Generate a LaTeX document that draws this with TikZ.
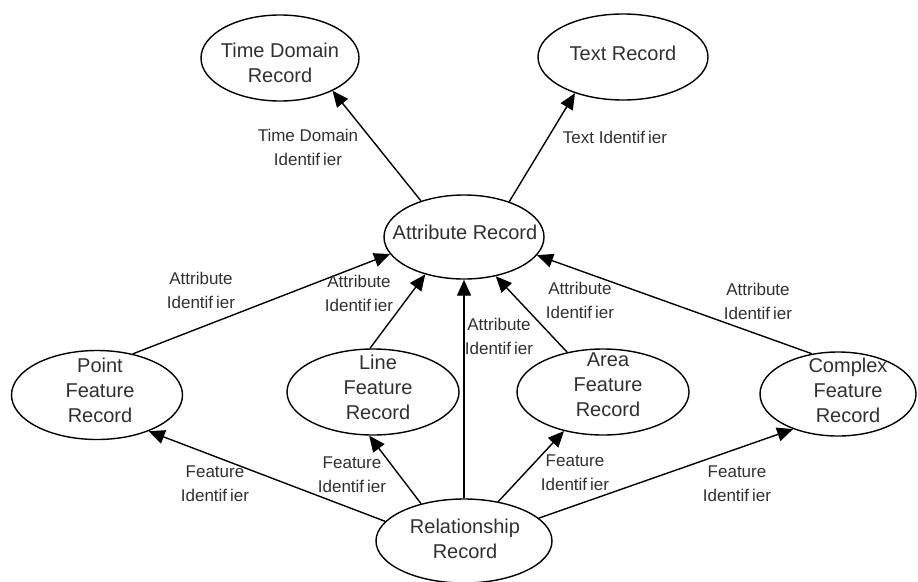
\documentclass[tikz,border=0pt]{standalone}
\usepackage{fontspec}
\setmainfont{Liberation Sans}
\usetikzlibrary{arrows.meta,shapes.geometric}
\definecolor{txt}{HTML}{303030}
\tikzset{
  rec/.style={draw, ellipse, line width=1.4pt, inner sep=0pt},
  rectext/.style={align=center, font=\fontsize{20}{25}\selectfont, text=txt, inner sep=0pt},
  lbl/.style={align=center, font=\fontsize{17}{24}\selectfont, text=txt, inner sep=0pt},
  link/.style={line width=1.4pt, -{Triangle[length=16pt,width=14pt]}},
}
\newcommand{\idf}{Identif\kern3pt ier}
\begin{document}
\begin{tikzpicture}[x=1pt,y=-1pt]
\useasboundingbox (0,0) rectangle (918,581);
% ellipses
\node[rec, minimum width=158pt, minimum height=86pt] (td) at (280,58) {};
\node[rec, minimum width=170pt, minimum height=86pt] (tr) at (623,57) {};
\node[rec, minimum width=160pt, minimum height=84pt] (ar) at (464,237) {};
\node[rec, minimum width=171pt, minimum height=89pt] (pf) at (97,395) {};
\node[rec, minimum width=172pt, minimum height=86pt] (lf) at (373,392) {};
\node[rec, minimum width=172pt, minimum height=86pt] (af) at (603,392) {};
\node[rec, minimum width=156pt, minimum height=84pt] (cf) at (838,394) {};
\node[rec, minimum width=176pt, minimum height=84pt] (rr) at (464,541) {};
% texts in ellipses
\node[rectext] (tdt) at (280,63) {Time Domain\\Record};
\node[rectext] (trt) at (623,53) {Text Record};
\node[rectext] (art) at (465,232) {Attribute Record};
\node[rectext] (pft) at (100,390) {Point\\Feature\\Record};
\node[rectext] (lft) at (378,387) {Line\\Feature\\Record};
\node[rectext] (aft) at (608,385) {Area\\Feature\\Record};
\node[rectext] (cft) at (848,390) {Complex\\Feature\\Record};
\node[rectext] (rrt) at (465,539) {Relationship\\Record};
% connectors
\draw[link] (ar.140.6) -- (td.-32.6);
\draw[link] (ar.38.2) -- (tr.217.6);
\draw[link] (pf.49.8) -- (ar.193.3);
\draw[link] (lf.94) -- (ar.224.3);
\draw[link] (rr) -- (ar);
\draw[link] (af.132.7) -- (ar.309.4);
\draw[link] (cf.123.7) -- (ar.346.5);
\draw[link] (rr.166.5) -- (pf.-35.7);
\draw[link] (rr.139.2) -- (lf.265.8);
\draw[link] (rr.49.9) -- (af.225.7);
\draw[link] (rr.17) -- (cf.218.5);
% labels
\node[lbl] (l1) at (308,147) {Time Domain\\\idf};
\node[lbl] (l2) at (615,137) {Text \idf};
\node[lbl] (l3) at (201,290) {Attribute\\\idf};
\node[lbl] (l4) at (359,293) {Attribute\\\idf};
\node[lbl] (l5) at (499,336) {Attribute\\\idf};
\node[lbl] (l6) at (580,300) {Attribute\\\idf};
\node[lbl] (l7) at (758,301) {Attribute\\\idf};
\node[lbl] (l8) at (215,484) {Feature\\\idf};
\node[lbl] (l9) at (352,475) {Feature\\\idf};
\node[lbl] (l10) at (575,473) {Feature\\\idf};
\node[lbl] (l11) at (737,484) {Feature\\\idf};
\end{tikzpicture}
\end{document}
